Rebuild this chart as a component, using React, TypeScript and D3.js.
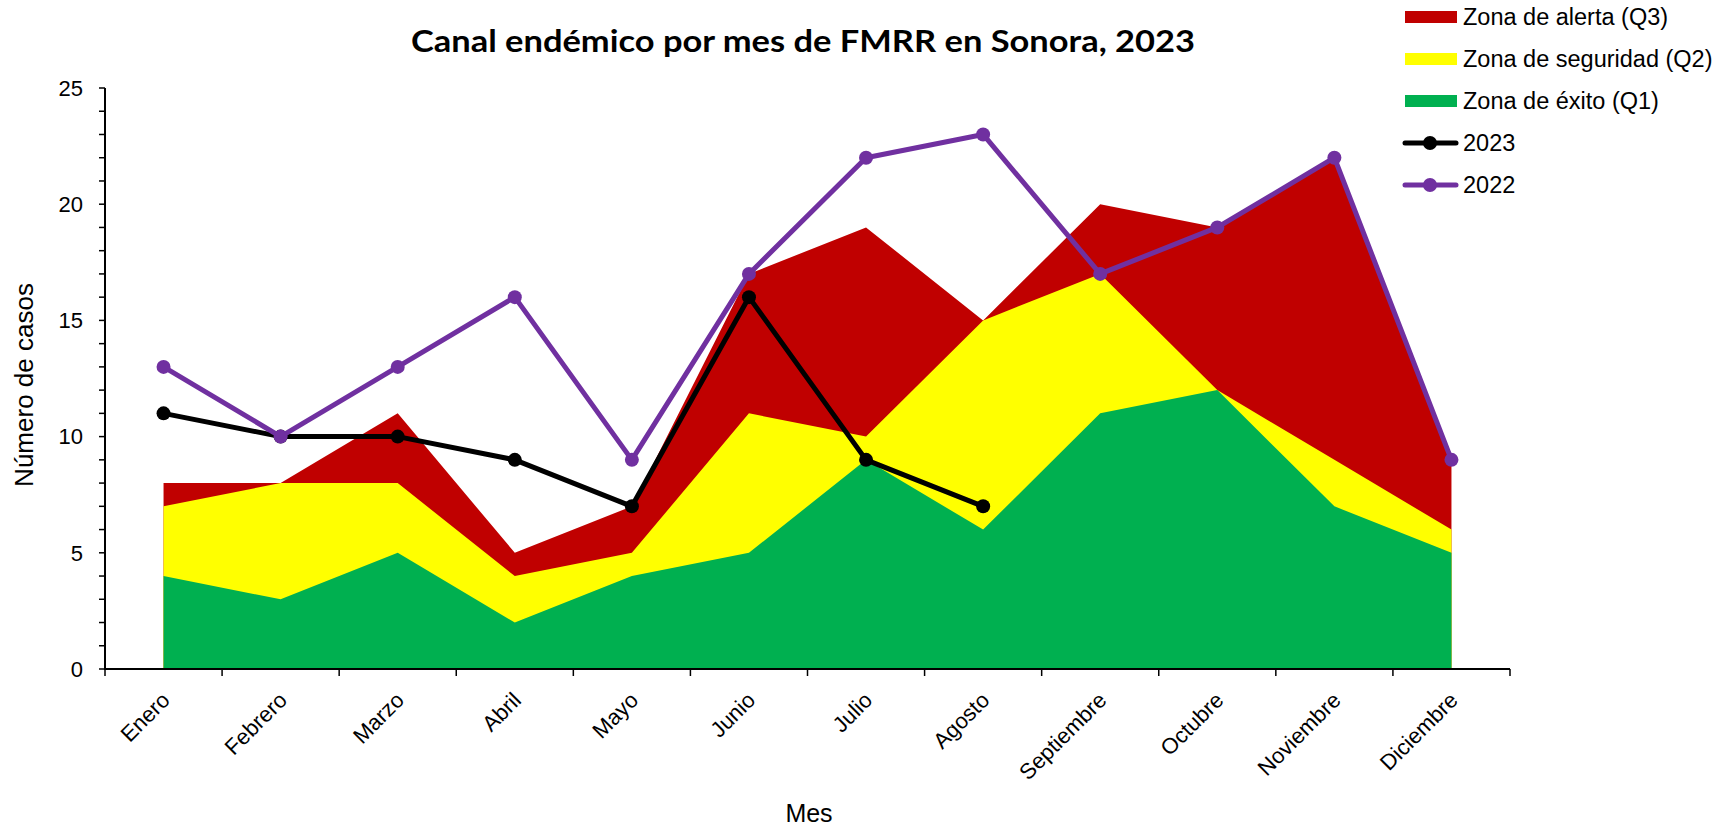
import React, { useEffect, useRef } from 'react';
import * as d3 from 'd3';

const months = ['Enero', 'Febrero', 'Marzo', 'Abril', 'Mayo', 'Junio', 'Julio', 'Agosto', 'Septiembre', 'Octubre', 'Noviembre', 'Diciembre'];
const q1 = [4, 3, 5, 2, 4, 5, 9, 6, 11, 12, 7, 5];
const q2 = [7, 8, 8, 4, 5, 11, 10, 15, 17, 12, 9, 6];
const q3 = [8, 8, 11, 5, 7, 17, 19, 15, 20, 19, 22, 9];
const cases2023 = [11, 10, 10, 9, 7, 16, 9, 7];
const cases2022 = [13, 10, 13, 16, 9, 17, 22, 23, 17, 19, 22, 9];
const yTicks = [0, 5, 10, 15, 20, 25];

const W = 1731;
const H = 831;

const App = () => {
  const ref = useRef<SVGSVGElement>(null);

  useEffect(() => {
    document.body.style.margin = '0';
    const svg = d3.select(ref.current);
    svg.selectAll('*').remove();

    const font = '"Liberation Sans", Arial, sans-serif';
    const left = 105;
    const right = 1510;
    const top = 88;
    const bottom = 669;

    const x = d3.scaleBand().domain(months).range([left, right]).padding(0);
    const cx = (i: number) => x(months[i])! + x.bandwidth() / 2;
    const y = d3.scaleLinear().domain([0, 25]).range([bottom, top]);

    // zonas (se dibujan de mayor a menor, encimadas)
    const zones = [
      { vals: q3, color: '#C00000' },
      { vals: q2, color: '#FFFF00' },
      { vals: q1, color: '#00B050' },
    ];
    const area = d3
      .area<number>()
      .x((_, i) => cx(i))
      .y0(y(0))
      .y1((d) => y(d));
    zones.forEach((z) => {
      svg.append('path').attr('d', area(z.vals)).attr('fill', z.color);
    });

    // ejes
    const axes = svg.append('g').attr('stroke', '#000').attr('stroke-width', 2);
    axes.append('line').attr('x1', left).attr('x2', left).attr('y1', top).attr('y2', bottom + 1);
    axes.append('line').attr('x1', left - 1).attr('x2', right).attr('y1', bottom).attr('y2', bottom);
    d3.range(0, 26).forEach((v) => {
      axes.append('line').attr('x1', left - 6).attr('x2', left).attr('y1', y(v)).attr('y2', y(v)).attr('stroke-width', 1.5);
    });
    d3.range(0, 13).forEach((i) => {
      const xx = left + i * x.bandwidth();
      axes.append('line').attr('x1', xx).attr('x2', xx).attr('y1', bottom).attr('y2', bottom + 7).attr('stroke-width', 1.5);
    });

    svg
      .append('g')
      .selectAll('text')
      .data(yTicks)
      .enter()
      .append('text')
      .attr('x', left - 22)
      .attr('y', (d) => y(d))
      .attr('dy', '0.35em')
      .attr('text-anchor', 'end')
      .style('font-family', font)
      .style('font-size', '22px')
      .text((d) => d);

    svg
      .append('g')
      .selectAll('text')
      .data(months)
      .enter()
      .append('text')
      .attr('transform', (_, i) => `translate(${cx(i) - 4},${bottom + 21}) rotate(-45)`)
      .attr('dy', '0.75em')
      .attr('text-anchor', 'end')
      .style('font-family', font)
      .style('font-size', '22px')
      .text((d) => d);

    // líneas
    const line = d3
      .line<number>()
      .x((_, i) => cx(i))
      .y((d) => y(d));
    const series = [
      { vals: cases2023, color: '#000000' },
      { vals: cases2022, color: '#7030A0' },
    ];
    series.forEach((s) => {
      svg
        .append('path')
        .attr('d', line(s.vals))
        .attr('fill', 'none')
        .attr('stroke', s.color)
        .attr('stroke-width', 5)
        .attr('stroke-linejoin', 'round');
      svg
        .append('g')
        .selectAll('circle')
        .data(s.vals)
        .enter()
        .append('circle')
        .attr('cx', (_, i) => cx(i))
        .attr('cy', (d) => y(d))
        .attr('r', 7)
        .attr('fill', s.color);
    });

    // títulos
    svg
      .append('text')
      .attr('x', 803)
      .attr('y', 52)
      .attr('text-anchor', 'middle')
      .attr('textLength', 784)
      .attr('lengthAdjust', 'spacingAndGlyphs')
      .style('font-family', 'Lato, "Open Sans", sans-serif')
      .style('font-weight', 700)
      .style('font-size', '31px')
      .text('Canal endémico por mes de FMRR en Sonora, 2023');

    svg
      .append('text')
      .attr('transform', `translate(33,385) rotate(-90)`)
      .attr('text-anchor', 'middle')
      .style('font-family', font)
      .style('font-size', '26px')
      .text('Número de casos');

    svg
      .append('text')
      .attr('x', 809)
      .attr('y', 822)
      .attr('text-anchor', 'middle')
      .style('font-family', font)
      .style('font-size', '25px')
      .text('Mes');

    // leyenda
    const legendItems = [
      { label: 'Zona de alerta (Q3)', color: '#C00000', type: 'area' },
      { label: 'Zona de seguridad (Q2)', color: '#FFFF00', type: 'area' },
      { label: 'Zona de éxito (Q1)', color: '#00B050', type: 'area' },
      { label: '2023', color: '#000000', type: 'line' },
      { label: '2022', color: '#7030A0', type: 'line' },
    ];
    const lg = svg.append('g');
    legendItems.forEach((it, i) => {
      const ly = 17 + i * 42;
      if (it.type === 'area') {
        lg.append('rect').attr('x', 1405).attr('y', ly - 6).attr('width', 52).attr('height', 12).attr('fill', it.color);
      } else {
        lg.append('line')
          .attr('x1', 1405)
          .attr('x2', 1456)
          .attr('y1', ly)
          .attr('y2', ly)
          .attr('stroke', it.color)
          .attr('stroke-width', 5)
          .attr('stroke-linecap', 'round');
        lg.append('circle').attr('cx', 1430).attr('cy', ly).attr('r', 7).attr('fill', it.color);
      }
      lg.append('text')
        .attr('x', 1463)
        .attr('y', ly)
        .attr('dy', '0.35em')
        .style('font-family', font)
        .style('font-size', '23.5px')
        .text(it.label);
    });
  }, []);

  return <svg ref={ref} width={W} height={H} style={{ display: 'block' }} />;
};

export default App;
